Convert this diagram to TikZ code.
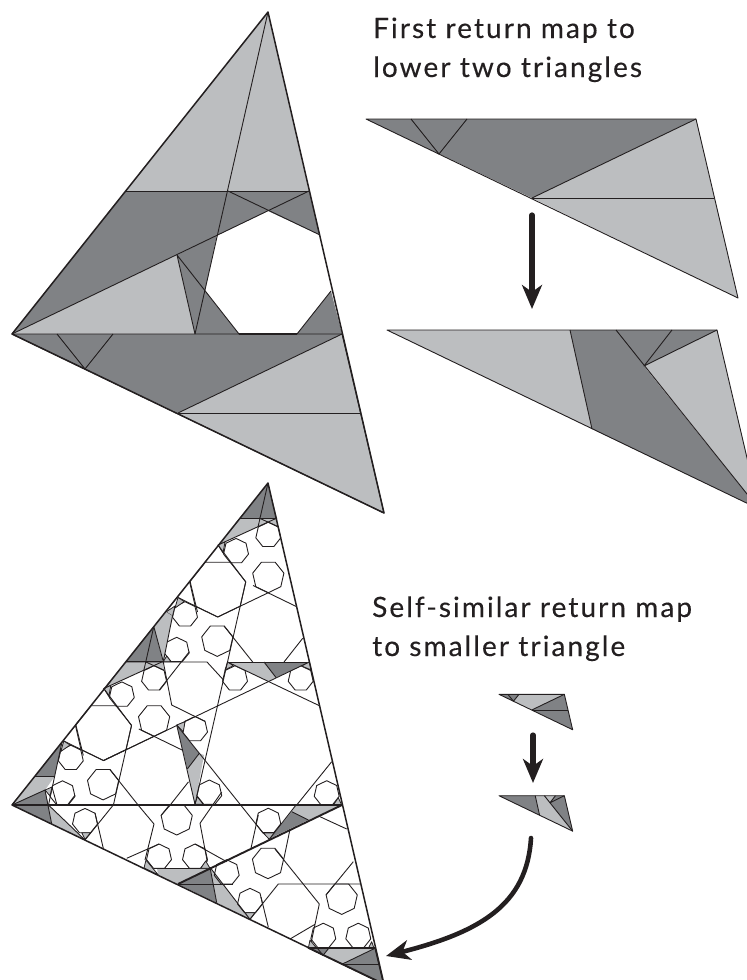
\documentclass[tikz,border=0pt]{standalone}
\usepackage{fontspec}
\usetikzlibrary{arrows.meta}
\newfontfamily\labelfont[LetterSpace=7.4,FakeBold=0.3]{Lato}
\definecolor{darkgr}{HTML}{808285}
\definecolor{lightgr}{HTML}{BCBEC0}
\definecolor{inkline}{HTML}{231F20}
\tikzset{
  thinline/.style={draw=inkline,line width=0.9pt,line join=round},
  edgeline/.style={draw=inkline,line width=1.5pt,line join=round},
  thickline/.style={draw=inkline,line width=1.9pt},
  darkpart/.style={fill=darkgr,draw=inkline,line width=0.8pt,line join=round},
  lightpart/.style={fill=lightgr,draw=inkline,line width=0.8pt,line join=round},
  maparrow/.style={draw=inkline,line width=5.2pt,line cap=round,
    -{Stealth[length=24pt,width=20pt,inset=7pt]}},
  maptext/.style={anchor=base west,inner sep=0pt,text=inkline,font=\labelfont\fontsize{28}{32}\selectfont}
}
% heptagons: #1 start angle, centre #2,#3, radius #4
\newcommand{\hepta}[4]{\draw[thinline,shift={(#2,#3)}] (#1:#4) -- (#1+51.43:#4) -- (#1+102.86:#4) -- (#1+154.29:#4) -- (#1+205.71:#4) -- (#1+257.14:#4) -- (#1+308.57:#4) -- cycle;}
\newcommand{\heptup}[3]{\hepta{270}{#1}{#2}{#3}}
\newcommand{\heptdn}[3]{\hepta{90}{#1}{#2}{#3}}
% first map triangle: #1,#2 left corner, #3 scale, #4 band, #5 lower part
\newcommand{\firstmap}[5]{
  \begin{scope}[shift={(#1,#2)},scale=#3]
    \fill[#4] (0,0) -- (330,0) -- (166,79) -- cycle;
    \fill[#5] (166,79) -- (330,0) -- (372,179) -- cycle;
    \fill[darkgr] (0,0) -- (101,0) -- (73,35) -- cycle;
    \draw[thinline] (45,0) -- (73,35) -- (101,0);
    \draw[thinline] (166,79) -- (330,0);
    \draw[thinline] (166,79) -- (348,79);
    \draw[thinline] (0,0) -- (330,0) -- (372,179) -- cycle;
  \end{scope}
}
% second map triangle: #4 left, #5 middle, #6 right
\newcommand{\secondmap}[6]{
  \begin{scope}[shift={(#1,#2)},scale=#3]
    \fill[#4] (0,0) -- (183,0) -- (205,99) -- cycle;
    \fill[#5] (183,0) -- (285,0) -- (257,36) -- (372,179) -- (205,99) -- cycle;
    \fill[#6] (257,36) -- (330,0) -- (372,179) -- cycle;
    \fill[darkgr] (285,0) -- (330,0) -- (257,36) -- cycle;
    \draw[thinline] (183,0) -- (205,99);
    \draw[thinline] (229,0) -- (372,179);
    \draw[thinline] (285,0) -- (257,36) -- (330,0);
    \draw[thinline] (0,0) -- (330,0) -- (372,179) -- cycle;
  \end{scope}
}
\begin{document}
\begin{tikzpicture}[x=1pt,y=-1pt]
  \clip (0,0) rectangle (747,980);
  % upper triangle
  \fill[lightgr] (268,12) -- (126,191) -- (309,191) -- cycle;
  \fill[darkgr] (12,334) -- (126,191) -- (309,191) -- (320,235) -- (268,211) -- cycle;
  \fill[darkgr] (217,235) -- (177,255) -- (195,334) -- (239,334) -- (205,291) -- cycle;
  \fill[lightgr] (12,334) -- (177,255) -- (195,334) -- cycle;
  \fill[darkgr] (297,334) -- (331,291) -- (342,334) -- cycle;
  \firstmap{12}{334}{1}{darkgr}{lightgr}
  \draw[thinline] (126,191) -- (309,191);
  \draw[thinline] (268,12) -- (195,334);
  \draw[thinline] (12,334) -- (309,191);
  \draw[thinline] (228,191) -- (320,235);
  \draw[thinline] (195,334) -- (177,255) -- (239,334);
  \draw[thinline] (297,334) -- (331,291);
  \draw[thickline] (239,334) -- (297,334);
  \draw[edgeline] (268,12) -- (12,334) -- (384,513) -- cycle;
  % the two maps on the right
  \firstmap{366}{119}{1}{darkgr}{lightgr}
  \secondmap{387}{330}{1}{lightgr}{darkgr}{lightgr}
  \coordinate (mapa) at (532,215);
  \coordinate (mapb) at (532,309);
  \draw[maparrow] (mapa) -- (mapb);
  \node[maptext] (titlea) at (373,38) {First return map to};
  \node[maptext] (titleb) at (373,77) {lower two triangles};
  \node[maptext] (titlec) at (372,617) {Self-similar return map};
  \node[maptext] (titled) at (372,656) {to smaller triangle};
  % small maps
  \firstmap{499}{694.3}{0.198}{lightgr}{darkgr}
  \secondmap{499}{795.7}{0.198}{darkgr}{lightgr}{darkgr}
  \coordinate (smalla) at (533,735);
  \coordinate (smallb) at (533,783);
  \draw[maparrow] (smalla) -- (smallb);
  \coordinate (curvea) at (531,838);
  \coordinate (curveb) at (386,956);
  \draw[maparrow,line width=4.6pt] (curvea) .. controls (527,905) and (480,932) .. (curveb);
  % lower triangle, pieces that come twice along the left side
  \foreach \dx/\dy in {0/0,-114.2/143.5} {
    \begin{scope}[shift={(\dx,\dy)}]
      \fill[darkgr] (268,483) -- (240,518) -- (277,518) -- cycle;
      \fill[lightgr] (240,518) -- (259,518) -- (258,526.7) -- (218,545) -- cycle;
      \fill[lightgr] (259,518) -- (277,518) -- (278.2,526.7) -- (268.3,522.2) -- (258,526.7) -- cycle;
      \draw[thinline] (268,483) -- (258,527);
      \draw[thinline] (240,518) -- (277,518);
      \draw[thinline] (218,545) -- (277,518);
      \draw[thinline] (259,518) -- (278.2,526.7);
      \draw[lightpart] (218,545) -- (225,542) -- (223,553) -- cycle;
      \heptup{268.3}{535}{12.8}
      \heptup{236}{551.2}{12.8}
      \heptdn{217.7}{588.2}{28.8}
      \heptup{185}{614.5}{12.8}
      \heptup{176.7}{650.1}{12.8}
      \heptdn{217.3}{640.4}{16}
      \heptdn{268.3}{576.7}{16}
      \draw[thinline] (218,545) -- (245.7,582);
      \draw[thinline] (245.7,582) -- (227.5,662);
      \draw[thinline] (296.7,606.7) -- (253,585.5);
      \draw[thinline] (217.7,617) -- (268.3,592.7);
      \draw[thinline] (217.7,617) -- (178,597.5);
      \draw[thinline] (224,626) -- (252.7,662);
      \draw[thinline] (302.7,638.3) -- (284,662);
      \draw[thinline] (190,581) -- (197.5,612);
      \draw[lightpart] (178,597.5) -- (184.3,601.5) -- (175,608) -- cycle;
      \draw[lightpart] (175,606) -- (172.5,616) -- (166,612) -- cycle;
    \end{scope}
  }
  % pieces only in the upper copy
  \fill[lightgr] (165.7,611.7) -- (172.5,616) -- (163.3,661.7) -- (153.8,626.5) -- cycle;
  \draw[thinline] (153.8,626.5) -- (163.3,661.7) -- (172.5,616);
  \draw[lightpart] (163.3,661.7) -- (166.7,656) -- (171,661.7) -- cycle;
  \draw[thinline] (126,662) -- (207,662) -- (223.5,680);
  \draw[thinline] (163.3,662) -- (171.7,705) -- (205,721.4);
  \draw[thinline] (189.3,651.7) -- (159.3,690);
  \heptup{235}{678.5}{12.8}
  \heptup{300.7}{678.5}{12.8}
  \heptup{195}{729.2}{12.8}
  \fill[lightgr] (227.5,662) -- (264,662) -- (276,677.5) -- (268,681.5) -- cycle;
  \fill[darkgr] (264,662) -- (309.3,662) -- (276,677.5) -- cycle;
  \draw[thinline] (264,662) -- (276,677.5);
  \draw[thinline] (227.5,662) -- (309.3,662);
  \draw[thinline] (227.5,662) -- (320,706);
  \draw[thinline] (309.3,662) -- (103.3,760.7);
  \draw[lightpart] (227.5,662) -- (225,670) -- (233.3,665.7) -- cycle;
  \draw[lightpart] (309.3,662) -- (311.3,670) -- (301.7,666) -- cycle;
  % middle strip
  \fill[darkgr] (176.7,725) -- (199.3,753.3) -- (187.3,769) -- cycle;
  \fill[lightgr] (187.3,769) -- (199.3,753.3) -- (204,755) -- (195,804.3) -- cycle;
  \draw[lightpart] (176.7,725) -- (185,721.7) -- (183.3,731.7) -- cycle;
  \draw[lightpart] (195,804.3) -- (197.3,796.7) -- (203.3,804.3) -- cycle;
  \draw[thinline] (176.7,725) -- (195,804.3);
  \draw[thinline] (227.5,662) -- (195,804.3);
  \draw[thinline] (176.7,725) -- (263.3,833.3);
  \draw[thinline] (187.3,769) -- (199.3,753.3);
  % left corner
  \fill[darkgr] (62,742) -- (35,776.7) -- (54.5,776.7) -- cycle;
  \fill[lightgr] (35,776.7) -- (54.5,776.7) -- (45,790) -- (12,805) -- cycle;
  \fill[darkgr] (12,805) -- (45,790) -- (48.5,805) -- cycle;
  \fill[darkgr] (12,805) -- (48.5,805) -- (51.7,824) -- cycle;
  \fill[lightgr] (48.5,805) -- (85,840) -- (51.7,824) -- cycle;
  \draw[thinline] (62,742) -- (48.5,805);
  \draw[thinline] (35,776.7) -- (54.5,776.7);
  \draw[thinline] (12,805) -- (45,790) -- (51.7,824);
  \draw[thinline] (48.5,805) -- (85,840);
  \draw[lightpart] (45,790) -- (52,787) -- (50,796) -- cycle;
  \draw[thinline] (52,787) -- (57,805);
  \draw[thinline] (75,795.2) -- (67.5,805);
  % below the horizontal line
  \heptup{85}{821.2}{12.8}
  \draw[lightpart] (81.7,832.7) -- (90.7,832.7) -- (85,839.3) -- cycle;
  \draw[thinline] (113.3,805) -- (85,840);
  \draw[thinline] (95,813) -- (103.3,848.3);
  \heptdn{176.7}{819}{16}
  \draw[thinline] (169.8,805.5) -- (161.1,815.4);
  \draw[thinline] (138.5,805.5) -- (154,824) -- (145,860);
  \heptup{159}{856.8}{12.8}
  \heptup{195}{856.8}{12.8}
  \draw[thinline] (126.7,858.3) -- (159,844);
  \draw[thinline] (195,844) -- (226.7,861.7);
  \fill[lightgr] (157,868.3) -- (208.3,868.3) -- (178,884) -- (158,875) -- cycle;
  \draw[lightpart] (146,860) -- (144,868) -- (158.3,875) -- cycle;
  \draw[thinline] (157,868.3) -- (208.3,868.3);
  \fill[darkgr] (178,884) -- (210,867.3) -- (216.7,902.7) -- cycle;
  \fill[lightgr] (210,867.3) -- (250,919.3) -- (216.7,902.7) -- cycle;
  \draw[thinline] (210,867.3) -- (216.7,902.7);
  \draw[thinline] (210,867.3) -- (250,919.3);
  \draw[thinline] (178,884) -- (233.3,884);
  \draw[lightpart] (200.7,868.3) -- (205.7,861) -- (210,868.3) -- cycle;
  \heptup{226.7}{872.5}{12.8}
  \heptup{250}{901.1}{12.8}
  \draw[lightpart] (245,912.7) -- (255,912.7) -- (250,919.3) -- cycle;
  \draw[thinline] (250,919.3) -- (278.3,884) -- (360,884);
  \draw[thinline] (261,897) -- (268.3,927);
  \heptdn{341.7}{898.4}{16}
  \draw[thinline] (353.3,861.7) -- (326,895);
  \draw[thinline] (275,849) -- (319.3,904) -- (310,948);
  \draw[thinline] (290,939) -- (315,924.3);
  \heptup{323.3}{936}{12.8}
  \heptup{358.3}{936}{12.8}
  \heptdn{268}{862.7}{16}
  \draw[thinline] (290,829.3) -- (283.6,860);
  \heptup{268.3}{821}{12.8}
  \draw[thinline] (258.3,815) -- (251,848.3);
  \draw[lightpart] (263.3,833) -- (275,833) -- (269.3,839.3) -- cycle;
  \fill[lightgr] (296,805) -- (341.7,805) -- (308.3,820) -- (291.7,811.7) -- cycle;
  \fill[darkgr] (291.7,811.7) -- (308.3,820) -- (270,838.3) -- cycle;
  \draw[thinline] (296,805) -- (270,838.3);
  \draw[thinline] (291.7,811.7) -- (308.3,820);
  \draw[thinline] (320,816.7) -- (346.7,829);
  \heptup{326.7}{793.5}{12.8}
  \draw[lightpart] (333.3,805) -- (338.3,797.7) -- (341.7,805) -- cycle;
  \draw[thinline] (331.7,761.7) -- (296.7,805);
  \heptup{209.3}{792.8}{12.8}
  \draw[thinline] (221.7,792) -- (200,823.3) -- (207.3,861.7);
  % self-similar corner at the bottom
  \firstmap{308.3}{948.3}{0.202}{lightgr}{darkgr}
  \draw[lightpart] (310,940) -- (308.3,948.3) -- (316.7,948.3) -- cycle;
  \draw[lightpart] (368.3,948.3) -- (371.7,941.7) -- (374,948.3) -- cycle;
  % heavy lines and outline
  \draw[thickline] (12,805) -- (342,805);
  \draw[thickline] (342,805) -- (178,884);
  \draw[thickline] (308.3,948.3) -- (375,948.3);
  \draw[edgeline] (268,483) -- (12,805) -- (384,984) -- cycle;
\end{tikzpicture}
\end{document}
